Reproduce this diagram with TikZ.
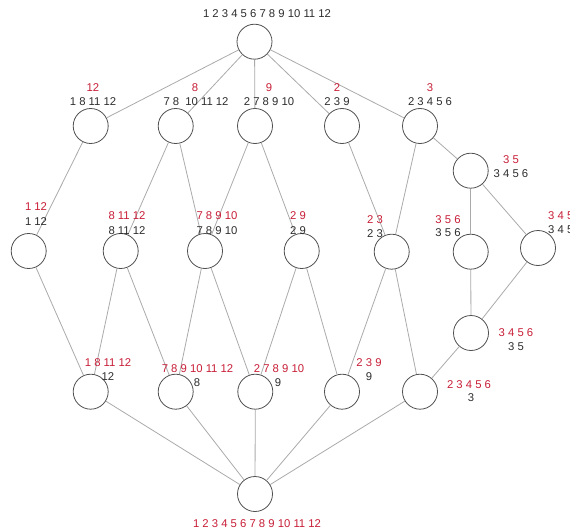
\documentclass[tikz,border=0pt]{standalone}
\usepackage{fontspec}
\setmainfont{Liberation Sans}
\definecolor{lred}{RGB}{200,30,55}
\definecolor{ltxt}{RGB}{45,45,45}
\definecolor{ledge}{RGB}{170,170,170}
\definecolor{lcirc}{RGB}{80,80,80}
\begin{document}
\begin{tikzpicture}[x=1pt,y=-1pt,
  vert/.style={circle,draw=lcirc,line width=0.8pt,fill=white,minimum size=35pt,inner sep=0pt},
  edge/.style={draw=ledge,line width=0.8pt},
  rl/.style={text=lred,inner sep=0pt,font=\fontsize{11.3}{13}\selectfont},
  bl/.style={text=ltxt,inner sep=0pt,font=\fontsize{11.3}{13}\selectfont}]
\useasboundingbox (0,0) rectangle (570,532);
% vertices
\node[vert] (top) at (254.5,41.7) {};
\node[vert] (n1) at (90.7,126) {};
\node[vert] (n2) at (175.7,126) {};
\node[vert] (n3) at (255,126) {};
\node[vert] (n4) at (342,126) {};
\node[vert] (n5) at (420,126) {};
\node[vert] (n6) at (470.7,170.7) {};
\node[vert] (r2a) at (28.7,251) {};
\node[vert] (r2b) at (120.7,251) {};
\node[vert] (r2c) at (205,251) {};
\node[vert] (r2d) at (301.7,251) {};
\node[vert] (r2e) at (391.7,251.7) {};
\node[vert] (r2f) at (470.7,251.7) {};
\node[vert] (r2g) at (538,248) {};
\node[vert] (n7) at (471,333) {};
\node[vert] (r3a) at (90.7,391.7) {};
\node[vert] (r3b) at (175.7,391.7) {};
\node[vert] (r3c) at (255.3,391.7) {};
\node[vert] (r3d) at (342,391.7) {};
\node[vert] (r3e) at (420,391.7) {};
\node[vert] (bot) at (255,494) {};
% edges
\foreach \a/\b in {top/n1,top/n2,top/n3,top/n4,top/n5,
  n1/r2a,n2/r2b,n2/r2c,n3/r2c,n3/r2d,n4/r2e,n5/r2e,n5/n6,n6/r2f,n6/r2g,
  r2a/r3a,r2b/r3a,r2b/r3b,r2c/r3b,r2c/r3c,r2d/r3c,r2d/r3d,r2e/r3d,r2e/r3e,
  r2f/n7,r2g/n7,n7/r3e,
  r3a/bot,r3b/bot,r3c/bot,r3d/bot,r3e/bot}
  \draw[edge] (\a) -- (\b);
% labels
\node[bl] (ltop) at (267,14) {1 2 3 4 5 6 7 8 9 10 11 12};
\node[rl] (rn1) at (93,88) {12};
\node[bl] (bn1) at (93,102) {1 8 11 12};
\node[rl] (rn2) at (195,88) {8};
\node[bl] (bn2) at (196,102) {7 8\hspace{3pt} 10 11 12};
\node[rl] (rn3) at (269,88) {9};
\node[bl] (bn3) at (269,102) {2 7 8 9 10};
\node[rl] (rn4) at (337,88) {2};
\node[bl] (bn4) at (337,102) {2 3 9};
\node[rl] (rn5) at (430,88) {3};
\node[bl] (bn5) at (430,102) {2 3 4 5 6};
\node[rl] (rn6) at (511,160) {3 5};
\node[bl] (bn6) at (511,174) {3 4 5 6};
\node[rl] (rr2a) at (36,207) {1 12};
\node[bl] (br2a) at (36,222) {1 12};
\node[rl] (rr2b) at (127,216) {8 11 12};
\node[bl] (br2b) at (127,231) {8 11 12};
\node[rl] (rr2c) at (217,216) {7 8 9 10};
\node[bl] (br2c) at (217,231) {7 8 9 10};
\node[rl] (rr2d) at (298,216) {2 9};
\node[bl] (br2d) at (298,231) {2 9};
\node[rl] (rr2e) at (375,220) {2 3};
\node[bl] (br2e) at (375,234) {2 3};
\node[rl] (rr2f) at (448,220) {3 5 6};
\node[bl] (br2f) at (448,233) {3 5 6};
\node[rl,anchor=west] (rr2g) at (548,216) {3 4 5};
\node[bl,anchor=west] (br2g) at (548,230) {3 4 5};
\node[rl] (rn7) at (516,333) {3 4 5 6};
\node[bl] (bn7) at (516,347) {3 5};
\node[rl] (rr3a) at (108,363) {1 8 11 12};
\node[bl] (br3a) at (108,377) {12};
\node[rl] (rr3b) at (197.5,369) {7 8 9 10 11 12};
\node[bl] (br3b) at (197,383) {8};
\node[rl] (rr3c) at (279,369) {2 7 8 9 10};
\node[bl] (br3c) at (278,383) {9};
\node[rl] (rr3d) at (369,363) {2 3 9};
\node[bl] (br3d) at (369,377) {9};
\node[rl] (rr3e) at (469,385) {2 3 4 5 6};
\node[bl] (br3e) at (471,398) {3};
\node[rl] (rbot) at (257,524) {1 2 3 4 5 6 7 8 9 10 11 12};
\end{tikzpicture}
\end{document}
